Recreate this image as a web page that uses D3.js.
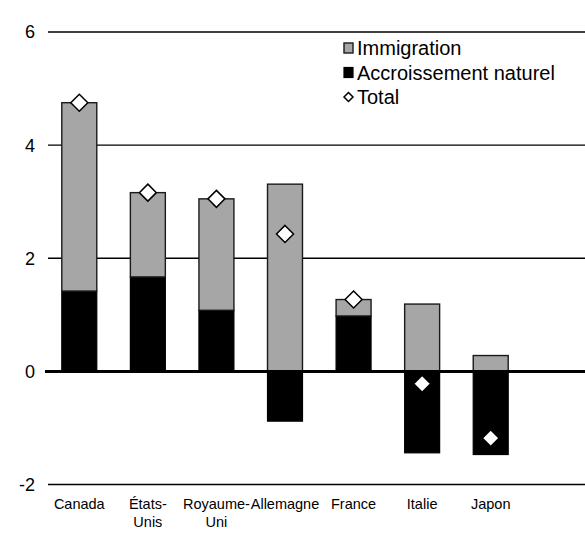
<!DOCTYPE html>
<html>
<head>
<meta charset="utf-8">
<script src="https://cdn.jsdelivr.net/npm/d3@7"></script>
<style>
  html, body { margin: 0; padding: 0; background: #fff; }
  svg text { font-family: "Liberation Sans", Arial, sans-serif; fill: #000; }
</style>
</head>
<body>
<svg id="chart" width="585" height="533"></svg>
<script>
const categories = [["Canada"], ["États-", "Unis"], ["Royaume-", "Uni"], ["Allemagne"], ["France"], ["Italie"], ["Japon"]];
const immigration = [3.33, 1.49, 1.97, 3.31, 0.29, 1.19, 0.28];
const naturel = [1.42, 1.67, 1.08, -0.88, 0.98, -1.44, -1.47];
const total = [4.75, 3.16, 3.05, 2.43, 1.27, -0.22, -1.18];
const yTicks = [-2, 0, 2, 4, 6];
const legendLabels = ["Immigration", "Accroissement naturel", "Total"];

const svg = d3.select("#chart");
const W = 585, H = 533;
const keys = categories.map(c => c.join(""));

const x = d3.scaleBand().domain(keys).range([45, 525]).paddingInner(0.49).paddingOuter(0.245);
const y = d3.scaleLinear().domain([-2, 6]).range([484.5, 32]);

// gridlines
svg.append("g").selectAll("line").data(yTicks.filter(t => t !== 0)).join("line")
  .attr("x1", 48).attr("x2", W)
  .attr("y1", d => y(d)).attr("y2", d => y(d))
  .attr("stroke", "#000").attr("stroke-width", 1.4);

// tick labels
svg.append("g").selectAll("text").data(yTicks).join("text")
  .attr("x", 35).attr("y", d => y(d))
  .attr("dy", "0.36em")
  .attr("text-anchor", "end")
  .attr("font-size", 18)
  .text(d => d);

// bars
const data = keys.map((k, i) => ({k, imm: immigration[i], nat: naturel[i], tot: total[i]}));
const bars = svg.append("g");
bars.selectAll("rect.nat").data(data).join("rect").attr("class", "nat")
  .attr("x", d => x(d.k)).attr("width", x.bandwidth())
  .attr("y", d => y(Math.max(0, d.nat))).attr("height", d => Math.abs(y(d.nat) - y(0)))
  .attr("fill", "#000").attr("stroke", "#000").attr("stroke-width", 1.2);
bars.selectAll("rect.imm").data(data).join("rect").attr("class", "imm")
  .attr("x", d => x(d.k)).attr("width", x.bandwidth())
  .attr("y", d => y(Math.max(0, d.nat) + d.imm))
  .attr("height", d => y(Math.max(0, d.nat)) - y(Math.max(0, d.nat) + d.imm))
  .attr("fill", "#a6a6a6").attr("stroke", "#1a1a1a").attr("stroke-width", 1.4);

// zero line
svg.append("line").attr("x1", 45).attr("x2", W).attr("y1", y(0)).attr("y2", y(0))
  .attr("stroke", "#000").attr("stroke-width", 3);

// diamonds
const diamond = (cx, cy, r) => `M${cx},${cy - r}L${cx + r},${cy}L${cx},${cy + r}L${cx - r},${cy}Z`;
svg.append("g").selectAll("path").data(data).join("path")
  .attr("d", d => diamond(x(d.k) + x.bandwidth() / 2, y(d.tot), 8.5))
  .attr("fill", "#fff").attr("stroke", "#000").attr("stroke-width", 1.5);

// category labels
const cl = svg.append("g").selectAll("text").data(data).join("text")
  .attr("x", d => x(d.k) + x.bandwidth() / 2)
  .attr("y", 509)
  .attr("text-anchor", "middle")
  .attr("font-size", 14.5);
cl.each(function(d, i) {
  const t = d3.select(this);
  categories[i].forEach((line, j) => {
    t.append("tspan").attr("x", x(d.k) + x.bandwidth() / 2).attr("dy", j === 0 ? 0 : 18).text(line);
  });
});

// legend
const lg = svg.append("g");
const lx = 344, ly = [48, 72.5, 97];
lg.append("rect").attr("x", lx).attr("y", ly[0] - 5).attr("width", 9).attr("height", 10)
  .attr("fill", "#a6a6a6").attr("stroke", "#1a1a1a").attr("stroke-width", 1.4);
lg.append("rect").attr("x", lx).attr("y", ly[1] - 5).attr("width", 9).attr("height", 10)
  .attr("fill", "#000").attr("stroke", "#000").attr("stroke-width", 1.2);
lg.append("path").attr("d", diamond(lx + 4.5, ly[2], 4.5))
  .attr("fill", "#fff").attr("stroke", "#000").attr("stroke-width", 1.5);
lg.selectAll("text").data(legendLabels).join("text")
  .attr("x", lx + 13).attr("y", (d, i) => ly[i]).attr("dy", "0.36em")
  .attr("font-size", 20)
  .text(d => d);
</script>
</body>
</html>
